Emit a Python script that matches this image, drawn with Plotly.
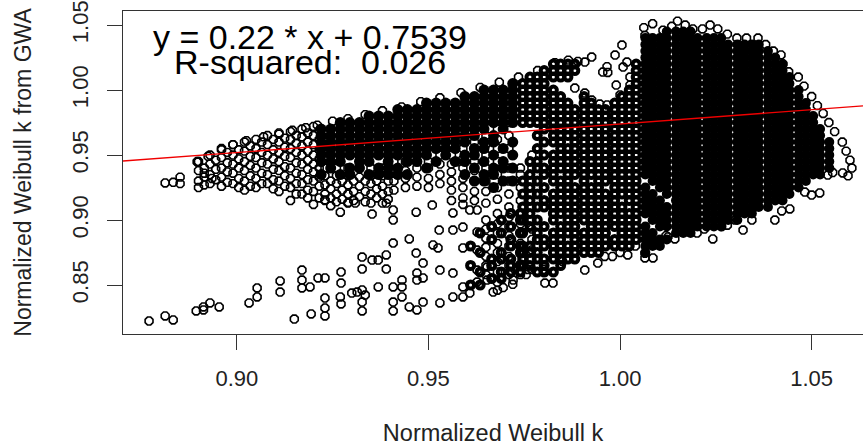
import plotly.graph_objects as go

# ---- red fit line ----
fit_x = [0.8703, 1.0634]
fit_y = [0.9454, 0.9878]

# ---- individually read outer points (rings) ----
low_x = [.8771,.8813,.8834,.8894,.8913,.8913,.893,.8954,.9032,.9053,.9053,.9113,.9113,.915,.917,.917,.917,.9191,.9194,.9212,.923,.923,.923,.923,.9272,.9272,.927,.9272,.93,.9314,.9327,.9335,.9327,.9327,.9327,.9353,.939,.9369,.9327,.939,.9408,.945,.9468,.9486,.9369,.9408,.9431,.9431,.947,.947,.9486,.9408,.9408,.9431,.945,.947,.9486,.9512,.9525,.9528,.9564,.9608,.9627,.953,.9564,.959,.9608,.953,.9564,.959,.9627,.9627,.9653,.9564,.959,.9627,.959,.9653,.9627,.923,.927,.9291,.9309,.9353,.939,.9408,.9408,.9468,.951,.8813,.8834,.8852,.8852,.8897,.8915,.8935]
low_y = [.8223,.8262,.8231,.83,.8308,.8331,.8362,.8331,.8362,.8408,.8477,.8531,.8446,.8238,.8615,.8538,.8477,.8485,.8277,.8554,.8554,.84,.8323,.8262,.86,.8515,.8408,.8354,.8438,.8446,.8462,.8423,.8369,.83,.8715,.8692,.8731,.8692,.8623,.8623,.8823,.8854,.8746,.8669,.8485,.8485,.8538,.8485,.8592,.8538,.8554,.8369,.83,.8408,.8331,.8308,.8369,.8808,.8785,.8923,.9054,.9077,.9077,.8362,.8408,.8408,.8438,.8615,.8592,.8785,.8769,.8615,.8638,.8923,.8946,.8908,.8485,.8538,.8523,.9154,.906,.9135,.913,.9046,.913,.9077,.90,.906,.9115,.9285,.929,.933,.928,.9446,.936,.932]

rim_x = [1.0062,1.0065,1.0085,1.0112,1.0135,1.015,1.017,1.019,1.0215,1.0235,1.0255,1.028,1.0305,1.033,1.036,1.038,1.04,1.042,1.0425,1.044,1.0465,1.048,1.05,1.0515,1.053,1.0545,1.056,1.058,1.059,1.06,1.0605,1.0595,1.0581,1.0542,1.0555,1.0521,1.0482,1.05,1.0443,1.0422,1.0404,1.0344,1.0321,1.0242,1.0201,1.0143,1.0125,1.0086,1.0065,1.0065,1.002,.9942,.9908,.9825,.9804,.9721,.9669,.972,.9695,1.035,1.03,1.028,1.0265,1.022,1.018,1.012,1.0105,1.004,1.0,.998,.996,.9925,.988,.985,.98,.976,.9755,1.0005,.9987,1.0008,1.0018,.9955,.9968,.9966,.9926,.9908,1.0026,.999,1.0026,1.0,.9882,.9908,.9926,.9947,.9966,.8897,.8925,.896,.899,.9025,.907,.911,.9145,.918,.921,.925,.929,.9335,.938,.943,.948,.953,.9585,.9635,.9685,.9735,.9785,.983,.9865,.989]
rim_y = [1.048,1.042,1.051,1.046,1.049,1.053,1.05,1.047,1.047,1.05,1.047,1.043,1.04,1.04,1.04,1.035,1.03,1.027,1.02,1.014,1.01,1.003,.995,.988,.982,.975,.968,.96,.953,.946,.94,.934,.9362,.9346,.9365,.9208,.9215,.9192,.9085,.907,.90,.90,.8923,.8854,.89,.8854,.887,.8708,.8708,.8745,.8731,.8669,.8615,.8515,.8515,.8538,.8446,.8505,.848,.91,.90,.896,.895,.893,.892,.888,.884,.88,.875,.872,.872,.875,.87,.868,.862,.862,.858,1.0346,1.0269,1.0177,1.0215,1.0138,1.0135,1.018,1.0254,1.0215,1.01,1.0038,1.0038,.9962,1.0015,.9977,.9923,.9892,.9885,.945,.949,.954,.958,.961,.964,.967,.969,.971,.973,.976,.978,.981,.984,.987,.991,.994,.998,1.002,1.006,1.01,1.015,1.021,1.023,1.022]

# ---- rings, read column by column ----
ring_x = [.890,.893,.896,.899,.902,.905,.908,.911,.914,.917,.92,.923,.926,.929,.932,.935,.938,.941,.944,.947,.95,.953,.956,.959,.962,.965,.968,.971,.974,.977]
r01=[.945,.938,.93,.925]
r02=[.95,.943,.935,.928]
r03=[.955,.948,.94,.933,.926]
r04=[.958,.95,.943,.936,.928]
r05=[.96,.953,.945,.938,.93,.923]
r06=[.962,.955,.948,.94,.932,.925]
r07=[.965,.958,.95,.943,.935,.928]
r08=[.966,.96,.952,.945,.938,.93,.922]
r09=[.968,.962,.955,.948,.94,.932,.925,.915]
r10=[.97,.964,.957,.95,.943,.935,.928,.92]
r11=[.972,.965,.958,.95,.943,.937,.93,.922,.912]
r12=[.96,.955,.948,.94,.934,.927,.92,.915]
r13=[.94,.934,.928,.92,.914]
r14=[.94,.934,.927,.92,.913]
r15=[.94,.933,.926,.918]
r16=[.94,.934,.928,.92,.913]
r17=[.94,.934,.926,.92,.913]
r18=[.945,.938,.93,.923]
r19=[.945,.938,.932,.925]
r20=[.945,.94,.933,.926]
r21=[.945,.94,.932,.925]
r22=[.95,.943,.935,.928]
r23=[.95,.943,.937,.93,.923,.915]
r24=[.955,.947,.94,.932,.925,.917,.912]
r25=[.96,.955,.945,.938,.93,.922,.915]
r26=[.965,.958,.95,.94,.93,.922,.913,.90,.893,.886,.879,.872,.865,.858]
r27=[.97,.962,.955,.945,.935,.925,.916,.905,.897,.89,.882,.875,.868,.86,.852,.846]
r28=[.975,.965,.955,.94,.93,.92,.91,.902,.895,.888,.88,.872,.865,.858]
r29=[.94,.935,.925,.915,.905,.897,.89,.882,.874,.866,.858]
r30=[.95,.94,.93,.92,.91,.9,.893,.885,.877,.87,.862]
ring_cols = [r01,r02,r03,r04,r05,r06,r07,r08,r09,r10,r11,r12,r13,r14,r15,r16,r17,r18,r19,r20,r21,r22,r23,r24,r25,r26,r27,r28,r29,r30]

# second, staggered set of ring columns
ring2_x = [.8915,.8945,.8975,.9005,.9035,.9065,.9095,.9125,.9155,.9185,.9215,.9245,.9275,.9305,.9335,.9365,.9395]
q01=[.94,.933,.927]
q02=[.946,.939,.931]
q03=[.952,.944,.937,.929]
q04=[.954,.947,.94,.932,.925]
q05=[.957,.949,.942,.934,.926]
q06=[.96,.952,.944,.936,.928]
q07=[.962,.954,.947,.939,.931,.924]
q08=[.963,.956,.949,.941,.934,.926]
q09=[.965,.959,.952,.944,.936,.928,.92]
q10=[.967,.96,.953,.946,.939,.931,.923,.917]
q11=[.969,.962,.954,.947,.94,.933,.926,.917]
q12=[.93,.924,.917,.911]
q13=[.93,.923,.916]
q14=[.93,.922,.915]
q15=[.93,.922,.914]
q16=[.93,.924,.917]
q17=[.93,.922,.916]
ring2_cols = [q01,q02,q03,q04,q05,q06,q07,q08,q09,q10,q11,q12,q13,q14,q15,q16,q17]

# ---- solid upper wedge columns ----
w_x = [.922,.9245,.927,.9295,.932,.9345,.937,.9395,.942,.9445,.947,.9495,.952,.9545,.957,.9595,.962,.9645,.967,.9695,.972]
w01=[.97,.965,.96,.955,.95,.945,.935]
w02=[.97,.965,.96,.955,.95,.945,.94]
w03=[.975,.97,.965,.96,.955,.95,.945,.935]
w04=[.975,.97,.965,.96,.955,.95,.94,.935]
w05=[.975,.97,.965,.96,.955,.95,.945,.94]
w06=[.98,.975,.97,.965,.96,.955,.95,.945,.935]
w07=[.98,.975,.97,.965,.96,.955,.95,.94,.935]
w08=[.98,.975,.97,.965,.96,.955,.95,.945,.94,.935]
w09=[.985,.98,.975,.97,.965,.96,.955,.95,.94,.935]
w10=[.985,.98,.975,.97,.965,.96,.955,.95,.945,.935]
w11=[.985,.98,.975,.97,.965,.96,.955,.95,.945]
w12=[.99,.985,.98,.975,.97,.965,.96,.955,.95,.94]
w13=[.99,.985,.98,.975,.97,.965,.96,.955,.945]
w14=[.99,.985,.98,.975,.97,.965,.96,.955,.95]
w15=[.99,.985,.98,.975,.97,.965,.96,.955,.945]
w16=[.995,.99,.985,.98,.975,.97,.965,.96,.95,.945,.935]
w17=[.995,.99,.985,.98,.975,.97,.965,.955,.95,.94,.93]
w18=[1.0,.995,.99,.985,.98,.975,.97,.96,.955,.945,.935,.93]
w19=[1.0,.995,.99,.985,.98,.975,.965,.96,.95,.94,.935,.925]
w20=[1.0,.995,.99,.985,.98,.975,.97,.955,.945,.94,.93]
w21=[1.005,1.0,.995,.99,.985,.98,.975,.96,.95,.94,.93]
wedge_cols = [w01,w02,w03,w04,w05,w06,w07,w08,w09,w10,w11,w12,w13,w14,w15,w16,w17,w18,w19,w20,w21]

# ---- solid lower middle columns ----
f_x = [.961,.9635,.9665,.969,.9715,.974]
f5=[.88,.865,.85]
f6=[.89,.875,.86,.85]
f1=[.895,.885,.87,.865,.855]
f2=[.9,.89,.875,.87,.86,.855]
f3=[.905,.895,.885,.88,.87,.865,.86]
f4=[.905,.9,.89,.88,.875,.865,.86]
low_cols = [f5,f6,f1,f2,f3,f4]

# ---- solid main mass columns ----
m_x = [.9746,.9765,.9784,.9802,.9826,.9845,.9864,.9882,.9906,.9925,.9944,.9962,.9986,1.0005,1.0024,1.0042,1.0066,1.0085,1.0104,1.0122,1.0146,1.0165,1.0184,1.0202,1.0226,1.0245,1.0264,1.0282,1.0306,1.0325,1.0344,1.0362,1.0386,1.0405,1.0424,1.0442,1.0466,1.0485,1.0504,1.0522,1.0546]
m01=[1.005,1.0,.995,.99,.985,.98,.975,.93,.92,.91,.9,.89,.88,.875,.87,.865]
m02=[1.01,1.005,1.0,.995,.99,.985,.98,.975,.945,.935,.925,.915,.905,.895,.88,.875,.865]
m03=[1.01,1.005,1.0,.995,.99,.985,.98,.975,.965,.955,.945,.94,.93,.92,.91,.9,.89,.885,.875,.87,.86]
m04=[1.015,1.01,1.005,1.0,.995,.99,.985,.98,.975,.97,.96,.95,.94,.935,.925,.915,.91,.895,.885,.88,.87,.865,.86]
m05=[1.02,1.015,1.01,1.0,.995,.99,.985,.98,.975,.97,.965,.96,.95,.945,.94,.935,.93,.92,.915,.91,.905,.9,.89,.885,.88,.875,.87,.86]
m06=[1.02,1.015,1.01,.995,.99,.985,.98,.975,.97,.965,.96,.955,.95,.945,.94,.93,.925,.92,.915,.91,.905,.895,.89,.885,.88,.875,.87,.865]
m07=[1.02,1.015,1.01,.99,.985,.98,.975,.97,.965,.955,.95,.945,.94,.935,.93,.925,.92,.915,.91,.905,.9,.895,.89,.88,.875,.87]
m08=[1.02,1.015,.985,.98,.975,.97,.965,.96,.955,.95,.945,.94,.935,.925,.92,.915,.91,.905,.9,.895,.89,.885,.88,.875,.87]
m09=[.995,.99,.985,.98,.975,.97,.965,.96,.955,.95,.945,.94,.935,.93,.925,.92,.915,.91,.905,.9,.89,.885,.88,.875]
m10=[.99,.985,.98,.975,.97,.965,.96,.955,.95,.945,.94,.935,.925,.92,.915,.91,.905,.9,.895,.89,.885,.88,.875]
m11=[.985,.98,.975,.97,.965,.96,.955,.95,.945,.94,.935,.93,.925,.92,.915,.91,.905,.9,.895,.89,.885,.88,.875]
m12=[.985,.98,.975,.97,.965,.96,.955,.95,.945,.94,.935,.93,.92,.915,.91,.905,.9,.895,.89,.885,.88]
m13=[.99,.985,.98,.975,.97,.965,.96,.955,.95,.945,.94,.935,.93,.925,.92,.915,.91,.905,.9,.895,.885,.88]
m14=[.995,.99,.985,.98,.975,.97,.965,.96,.955,.95,.945,.94,.935,.93,.925,.92,.91,.905,.9,.895,.89,.885,.88]
m15=[1.0,.995,.99,.985,.98,.975,.97,.965,.96,.955,.95,.945,.94,.935,.93,.925,.92,.915,.905,.9,.895,.89,.885,.88]
m16=[1.02,1.015,1.01,1.005,1.0,.995,.99,.985,.98,.975,.97,.965,.96,.955,.95,.945,.94,.935,.93,.925,.92,.915,.91,.905,.9,.895,.89,.885]
m17=[1.04,1.035,1.03,1.025,1.02,1.015,1.01,1.005,1.0,.995,.99,.985,.98,.975,.97,.965,.96,.955,.95,.945,.94,.935,.925,.92,.915,.91,.905,.895,.89,.885,.88,.875]
m18=[1.04,1.035,1.03,1.025,1.02,1.015,1.01,1.005,1.0,.995,.99,.985,.98,.975,.97,.965,.96,.955,.95,.945,.94,.935,.93,.92,.915,.91,.905,.9,.89,.885,.88]
m19=[1.04,1.035,1.03,1.025,1.02,1.015,1.01,1.005,1.0,.995,.99,.985,.98,.975,.97,.965,.96,.955,.95,.945,.94,.935,.93,.925,.915,.91,.905,.9,.895,.885,.88]
m20=[1.045,1.04,1.035,1.03,1.025,1.02,1.015,1.01,1.005,1.0,.995,.99,.985,.98,.975,.97,.965,.96,.955,.95,.945,.94,.935,.93,.925,.92,.91,.905,.9,.895,.885]
m21=[1.045,1.04,1.035,1.03,1.025,1.02,1.015,1.01,1.005,1.0,.995,.99,.985,.98,.975,.97,.965,.96,.955,.95,.945,.94,.935,.93,.925,.92,.915,.91,.905,.9,.895,.89]
m22=[1.045,1.04,1.035,1.03,1.025,1.02,1.015,1.01,1.005,1.0,.995,.99,.985,.98,.975,.97,.965,.96,.955,.95,.945,.94,.935,.93,.925,.92,.915,.91,.905,.9,.895,.89]
m23=[1.045,1.04,1.035,1.03,1.025,1.02,1.015,1.01,1.005,1.0,.995,.99,.985,.98,.975,.97,.965,.96,.955,.95,.945,.94,.935,.93,.925,.92,.915,.91,.905,.9,.895,.89]
m24=[1.04,1.035,1.03,1.025,1.02,1.015,1.01,1.005,1.0,.995,.99,.985,.98,.975,.97,.965,.96,.955,.95,.945,.94,.935,.93,.925,.92,.915,.91,.905,.9,.895]
m25=[1.04,1.035,1.03,1.025,1.02,1.015,1.01,1.005,1.0,.995,.99,.985,.98,.975,.97,.965,.96,.955,.95,.945,.94,.935,.93,.925,.92,.915,.91,.905,.9,.895]
m26=[1.04,1.035,1.03,1.025,1.02,1.015,1.01,1.005,1.0,.995,.99,.985,.98,.975,.97,.965,.96,.955,.95,.945,.94,.935,.93,.925,.92,.915,.91,.905,.9,.895]
m27=[1.04,1.035,1.03,1.025,1.02,1.015,1.01,1.005,1.0,.995,.99,.985,.98,.975,.97,.965,.96,.955,.95,.945,.94,.935,.93,.925,.92,.915,.91,.905,.9,.895]
m28=[1.035,1.03,1.025,1.02,1.015,1.01,1.005,1.0,.995,.99,.985,.98,.975,.97,.965,.96,.955,.95,.945,.94,.935,.93,.925,.92,.915,.91,.905,.9]
m29=[1.035,1.03,1.025,1.02,1.015,1.01,1.005,1.0,.995,.99,.985,.98,.975,.97,.965,.96,.955,.95,.945,.94,.935,.93,.925,.92,.915,.91,.905,.9]
m30=[1.035,1.03,1.025,1.02,1.015,1.01,1.005,1.0,.995,.99,.985,.98,.975,.97,.965,.96,.955,.95,.945,.94,.935,.93,.925,.92,.915,.91,.905]
m31=[1.035,1.03,1.025,1.02,1.015,1.01,1.005,1.0,.995,.99,.985,.98,.975,.97,.965,.96,.955,.95,.945,.94,.935,.93,.925,.92,.915,.91,.905]
m32=[1.035,1.03,1.025,1.02,1.015,1.01,1.005,1.0,.995,.99,.985,.98,.975,.97,.965,.96,.955,.95,.945,.94,.935,.93,.925,.92,.915,.91]
m33=[1.03,1.025,1.02,1.015,1.01,1.005,1.0,.995,.99,.985,.98,.975,.97,.965,.96,.955,.95,.945,.94,.935,.93,.925,.92,.915,.91]
m34=[1.025,1.02,1.015,1.01,1.005,1.0,.995,.99,.985,.98,.975,.97,.965,.96,.955,.95,.945,.94,.935,.93,.925,.92,.915]
m35=[1.02,1.015,1.01,1.005,1.0,.995,.99,.985,.98,.975,.97,.965,.96,.955,.95,.945,.94,.935,.93,.925,.92,.915]
m36=[1.01,1.005,1.0,.995,.99,.985,.98,.975,.97,.965,.96,.955,.95,.945,.94,.935,.93,.925,.92]
m37=[1.0,.995,.99,.985,.98,.975,.97,.965,.96,.955,.95,.945,.94,.935,.93,.925]
m38=[.99,.985,.98,.975,.97,.965,.96,.955,.95,.945,.94,.935,.93]
m39=[.98,.975,.97,.965,.96,.955,.95,.945,.94,.935]
m40=[.97,.965,.96,.955,.95,.945,.94,.935]
m41=[.96,.955,.95,.945,.94]
mass_cols = [m01,m02,m03,m04,m05,m06,m07,m08,m09,m10,m11,m12,m13,m14,m15,m16,m17,m18,m19,m20,m21,m22,m23,m24,m25,m26,m27,m28,m29,m30,m31,m32,m33,m34,m35,m36,m37,m38,m39,m40,m41]

x_ticks = [0.90, 0.95, 1.00, 1.05]
y_ticks = [0.85, 0.90, 0.95, 1.00, 1.05]
x_label = "Normalized Weibull k"
y_label = "Normalized Weibull k from GWA"
equation = "y = 0.22 * x + 0.7539"
r_squared = "R-squared:  0.026"

def flatten(xs, cols):
    ox, oy = [], []
    for x, col in zip(xs, cols):
        for y in col:
            ox.append(x); oy.append(y)
    return ox, oy

FONT = "Liberation Sans, Arial, sans-serif"
ink = "#000000"
fig = go.Figure()

sx1, sy1 = flatten(w_x, wedge_cols)
sx2, sy2 = flatten(m_x[:16], mass_cols[:16])
sx3, sy3 = flatten(f_x, low_cols)
sx4, sy4 = flatten(m_x[16:], mass_cols[16:])
fig.add_trace(go.Scatter(x=sx1, y=sy1, mode="markers",
                         marker=dict(symbol="circle", size=11, color=ink, line=dict(width=0)),
                         hoverinfo="skip", showlegend=False))
fig.add_trace(go.Scatter(x=sx2 + sx3, y=sy2 + sy3, mode="markers",
                         marker=dict(symbol="circle-open", size=7, color=ink, line=dict(width=4, color=ink)),
                         hoverinfo="skip", showlegend=False))
fig.add_trace(go.Scatter(x=sx4, y=sy4, mode="markers",
                         marker=dict(symbol="circle", size=10, color=ink, line=dict(width=0)),
                         hoverinfo="skip", showlegend=False))
rx, ry = flatten(ring_x, ring_cols)
rx2, ry2 = flatten(ring2_x, ring2_cols)
fig.add_trace(go.Scatter(x=rx + rx2 + low_x + rim_x, y=ry + ry2 + low_y + rim_y, mode="markers",
                         marker=dict(symbol="octagon-open", size=8.5, color=ink, line=dict(width=1.6, color=ink)),
                         showlegend=False))
fig.add_trace(go.Scatter(x=fit_x, y=fit_y, mode="lines", line=dict(color="#f00000", width=1.3), showlegend=False))

fig.add_annotation(xref="paper", yref="paper", x=(310-123)/740, y=(334-37)/323, text=equation, showarrow=False,
                   font=dict(family=FONT, size=34, color="#000"), xanchor="center", yanchor="middle")
fig.add_annotation(xref="paper", yref="paper", x=(310-123)/740, y=(334-62)/323, text=r_squared, showarrow=False,
                   font=dict(family=FONT, size=34, color="#000"), xanchor="center", yanchor="middle")

fig.update_layout(
    width=863, height=446, margin=dict(l=123, r=0, t=11, b=112),
    paper_bgcolor="white", plot_bgcolor="white", showlegend=False,
    font=dict(family=FONT, color="#222"),
    xaxis=dict(range=[0.8703, 1.0634], showgrid=False, zeroline=False, showline=True, mirror=True,
               linecolor="#333", linewidth=1.3, ticks="outside", ticklen=15, tickcolor="#333", tickwidth=1,
               tickvals=x_ticks, ticktext=[f"{v:.2f}" for v in x_ticks], tickfont=dict(size=22),
               ticklabelstandoff=9,
               title=dict(text=x_label, font=dict(size=23.5), standoff=36), automargin=False),
    yaxis=dict(range=[0.8123, 1.0608], showgrid=False, zeroline=False, showline=True, mirror=False,
               linecolor="#333", linewidth=1.3, ticks="outside", ticklen=15, tickcolor="#333", tickwidth=1,
               tickvals=y_ticks, ticktext=[f"{v:.2f}" for v in y_ticks], tickfont=dict(size=22), tickangle=-90,
               ticklabelstandoff=10,
               title=dict(text=y_label, font=dict(size=23), standoff=29), automargin=False),
)
fig.write_html("out.html", default_width="863px", default_height="446px",
               config=dict(displayModeBar=False),
               post_script="document.body.style.margin='0';document.documentElement.style.overflow='hidden';")
